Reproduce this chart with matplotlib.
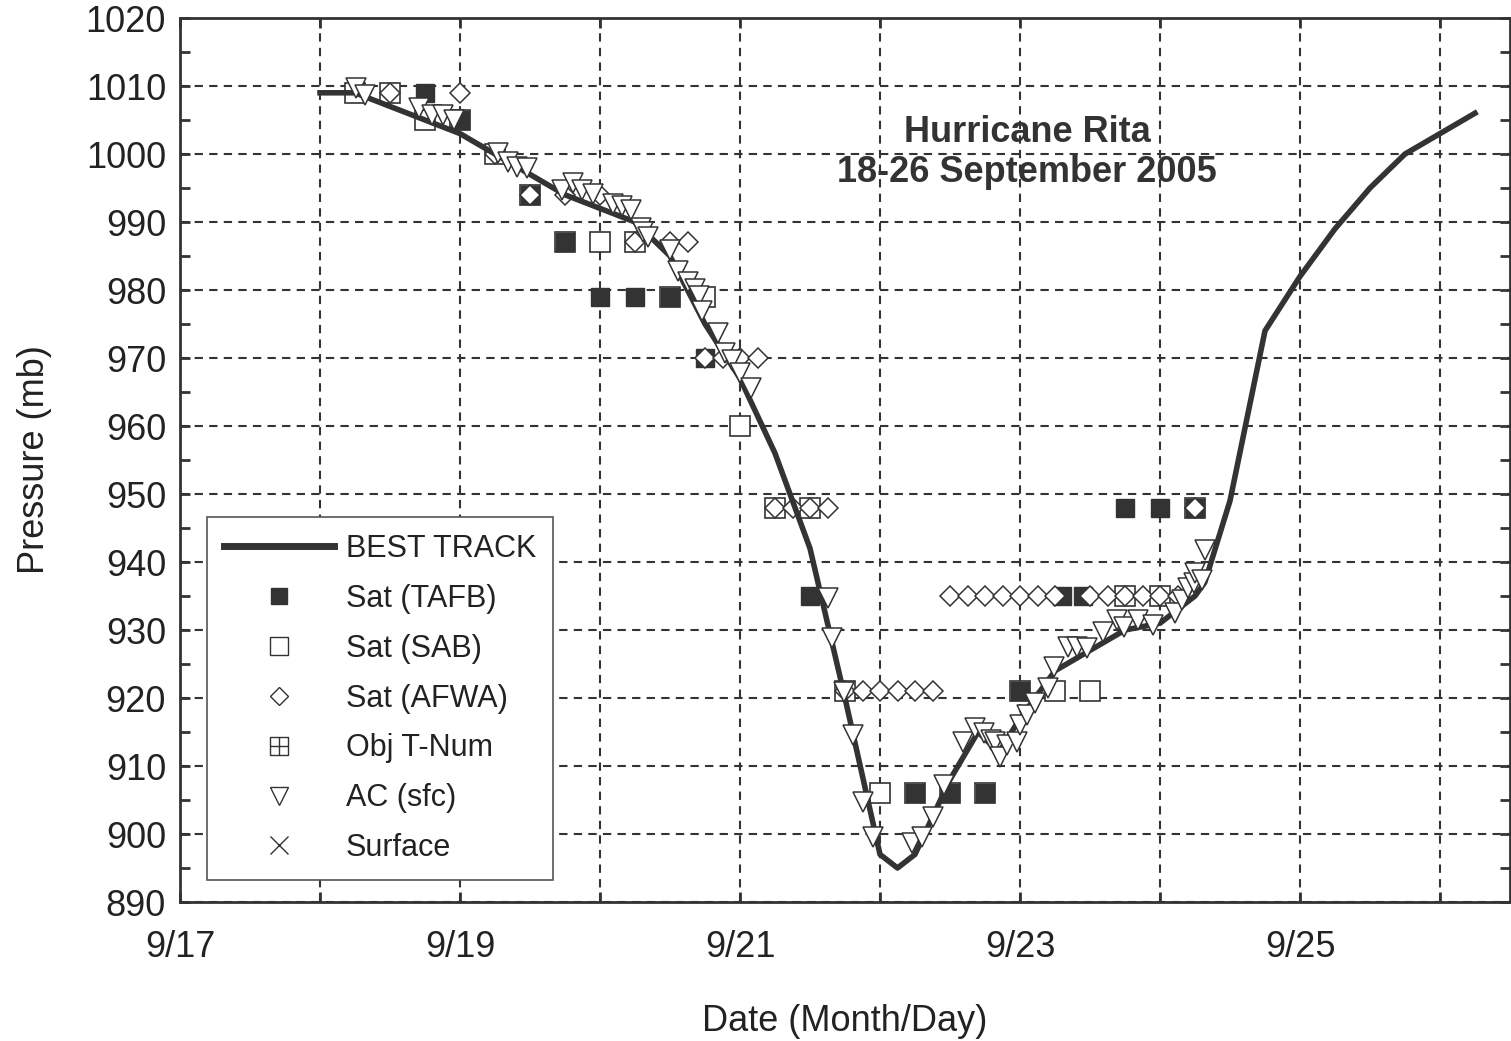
import matplotlib
matplotlib.use('Agg')
import matplotlib.pyplot as plt
from matplotlib.lines import Line2D
from matplotlib.path import Path

plt.rcParams['font.family'] = ['Liberation Sans', 'DejaVu Sans']

# best track, day of September vs. pressure (mb)
bt_day = [18.0, 18.25, 18.5, 18.75, 19.0, 19.25, 19.5, 19.75, 20.0, 20.25, 20.5,
          20.75, 21.0, 21.25, 21.5, 21.75, 22.0, 22.125, 22.25, 22.5, 22.7, 22.85,
          23.0, 23.25, 23.5, 23.75, 24.0, 24.25, 24.32, 24.5, 24.75, 25.0, 25.25,
          25.5, 25.75, 26.0, 26.25]
bt_p = [1009, 1009, 1007, 1005, 1003, 1000, 997, 994, 992, 990, 985,
        975, 967, 956, 942, 920, 897, 895, 897, 908, 915, 912,
        917, 924, 927, 930, 931, 935, 937, 949, 974, 982, 989,
        995, 1000, 1003, 1006]

# Sat (TAFB)
tafb_day = [18.75, 19.0, 19.5, 19.75, 20.0, 20.25, 20.5, 20.75, 21.5, 22.25, 22.5,
            22.75, 23.0, 23.3, 23.45, 23.75, 24.0, 24.25]
tafb_p = [1009, 1005, 994, 987, 979, 979, 979, 970, 935, 906, 906,
          906, 921, 935, 935, 948, 948, 948]

# Sat (SAB)
sab_day = [18.25, 18.5, 18.75, 19.0, 19.25, 19.5, 19.75, 20.0, 20.25, 20.5, 20.75,
           21.0, 21.25, 21.5, 21.75, 22.0, 22.25, 22.5, 22.75, 23.0, 23.25, 23.5,
           23.75, 24.0, 24.25]
sab_p = [1009, 1009, 1005, 1005, 1000, 994, 987, 987, 987, 979, 979,
         960, 948, 948, 921, 906, 906, 906, 906, 921, 921, 921,
         935, 935, 948]

# Sat (AFWA)
afwa_day = [18.5, 19.0, 19.25, 19.5, 19.75, 20.0, 20.25, 20.5, 20.625,
            20.75, 20.875, 21.0, 21.125, 21.25, 21.375, 21.5, 21.625,
            21.75, 21.875, 22.0, 22.125, 22.25, 22.375,
            22.5, 22.625, 22.75, 22.875, 23.0, 23.125, 23.25,
            23.5, 23.625, 23.75, 23.875, 24.0, 24.125, 24.25]
afwa_p = [1009, 1009, 1000, 994, 994, 994, 987, 987, 987,
          970, 970, 970, 970, 948, 948, 948, 948,
          921, 921, 921, 921, 921, 921,
          935, 935, 935, 935, 935, 935, 935,
          935, 935, 935, 935, 935, 935, 948]

# AC (sfc)
ac_day = [18.26, 18.32, 18.71, 18.80, 18.88, 18.96, 19.27, 19.34, 19.41, 19.48,
          19.73, 19.81, 19.87, 19.95, 20.09, 20.16, 20.22, 20.29, 20.31, 20.34,
          20.50, 20.56, 20.63, 20.68, 20.71, 20.73, 20.84, 20.89, 20.94, 21.00,
          21.08, 21.63, 21.66, 21.74, 21.81, 21.88, 21.95, 22.23, 22.30, 22.38,
          22.46, 22.59, 22.68, 22.74, 22.79, 22.82, 22.86, 22.91, 22.98, 23.00,
          23.05, 23.11, 23.20, 23.24, 23.34, 23.41, 23.48, 23.59, 23.69, 23.74,
          23.84, 23.95, 24.11, 24.16, 24.20, 24.24, 24.25, 24.30, 24.32]
ac_p = [1009.7, 1008.7, 1006.8, 1005.7, 1005.7, 1005.0, 1000.1, 998.8, 998.1, 997.9,
        994.7, 995.7, 994.7, 994.1, 992.6, 992.4, 991.8, 989.1, 988.5, 987.8,
        985.9, 982.8, 981.2, 980.1, 979.1, 976.9, 973.7, 970.7, 969.7, 967.8,
        965.6, 934.7, 928.8, 920.9, 914.6, 904.7, 899.6, 898.7, 899.6, 902.5,
        907.2, 913.5, 915.6, 914.9, 913.8, 913.5, 911.3, 913.1, 913.5, 916.0,
        917.5, 919.3, 921.5, 924.6, 927.5, 927.5, 927.4, 929.7, 931.5, 930.4,
        931.5, 930.7, 932.5, 934.4, 936.2, 936.9, 938.4, 937.4, 941.8]

x_ticks = list(range(17, 27))
x_labels = ['9/17', '', '9/19', '', '9/21', '', '9/23', '', '9/25', '']
y_ticks = list(range(890, 1021, 10))

dark = '#333333'

fig = plt.figure(figsize=(15.11, 10.41), dpi=100)
ax = fig.add_axes([180 / 1511, 1 - 902 / 1041, 1330 / 1511, 884 / 1041])

ax.plot(sab_day, sab_p, ls='none', marker='s', ms=14, mfc='white', mec=dark, mew=1.2, zorder=3)
ax.plot(tafb_day, tafb_p, ls='none', marker='s', ms=13, mfc=dark, mec=dark, mew=1, zorder=3.5)
ax.plot(afwa_day, afwa_p, ls='none', marker='D', ms=10, mfc='white', mec=dark, mew=1.1, zorder=4)
ax.plot(bt_day, bt_p, color=dark, lw=4, zorder=5)
ax.plot(ac_day, ac_p, ls='none', marker='v', ms=14, mfc='white', mec=dark, mew=1.1, zorder=6)

ax.set_xlim(17, 26.5)
ax.set_ylim(890, 1020)
ax.set_xticks(x_ticks)
ax.set_xticklabels(x_labels)
ax.set_yticks(y_ticks)
ax.set_yticks(list(range(895, 1020, 10)), minor=True)
ax.tick_params(which='both', direction='in', top=True, right=True, color=dark,
               length=7, width=2, labelsize=26, labelcolor='#222222')
ax.tick_params(axis='x', pad=20)
ax.tick_params(axis='y', pad=10)
ax.grid(True, which='major', color=dark, ls=(0, (4, 3)), lw=1.5)
for s in ax.spines.values():
    s.set_linewidth(2)
    s.set_color(dark)

ax.set_xlabel('Date (Month/Day)', fontsize=26, color='#222222', labelpad=28)
ax.set_ylabel('Pressure (mb)', fontsize=26, color='#222222', labelpad=24)

ax.text(0.637, 0.848, 'Hurricane Rita\n18-26 September 2005', transform=ax.transAxes,
        ha='center', va='center', fontsize=26, fontweight='bold', color=dark,
        linespacing=1.2)

# legend
box_path = Path([(-1, -1), (1, -1), (1, 1), (-1, 1), (-1, -1), (0, -1), (0, 1), (-1, 0), (1, 0)],
                [Path.MOVETO, Path.LINETO, Path.LINETO, Path.LINETO, Path.LINETO,
                 Path.MOVETO, Path.LINETO, Path.MOVETO, Path.LINETO])
handles = [
    Line2D([], [], color=dark, lw=5),
    Line2D([], [], ls='none', marker='s', ms=11, mfc=dark, mec=dark),
    Line2D([], [], ls='none', marker='s', ms=13, mfc='white', mec=dark, mew=1),
    Line2D([], [], ls='none', marker='D', ms=9, mfc='white', mec=dark, mew=1),
    Line2D([], [], ls='none', marker=box_path, ms=13, mfc='none', mec=dark, mew=1),
    Line2D([], [], ls='none', marker='v', ms=13, mfc='white', mec=dark, mew=1),
    Line2D([], [], ls='none', marker='x', ms=13, mec=dark, mew=1),
]
labels = ['BEST TRACK', 'Sat (TAFB)', 'Sat (SAB)', 'Sat (AFWA)', 'Obj T-Num', 'AC (sfc)', 'Surface']
leg = ax.legend(handles, labels, loc='lower left', bbox_to_anchor=(0.0203, 0.0249),
                borderaxespad=0, fontsize=22, handlelength=3.6, handletextpad=0.4,
                labelspacing=0.65, borderpad=0.55, fancybox=False, framealpha=1,
                edgecolor='#555555')
leg.get_frame().set_linewidth(1.2)
for t in leg.get_texts():
    t.set_color('#222222')
leg.set_zorder(10)

fig.savefig('out.png', dpi=100)
